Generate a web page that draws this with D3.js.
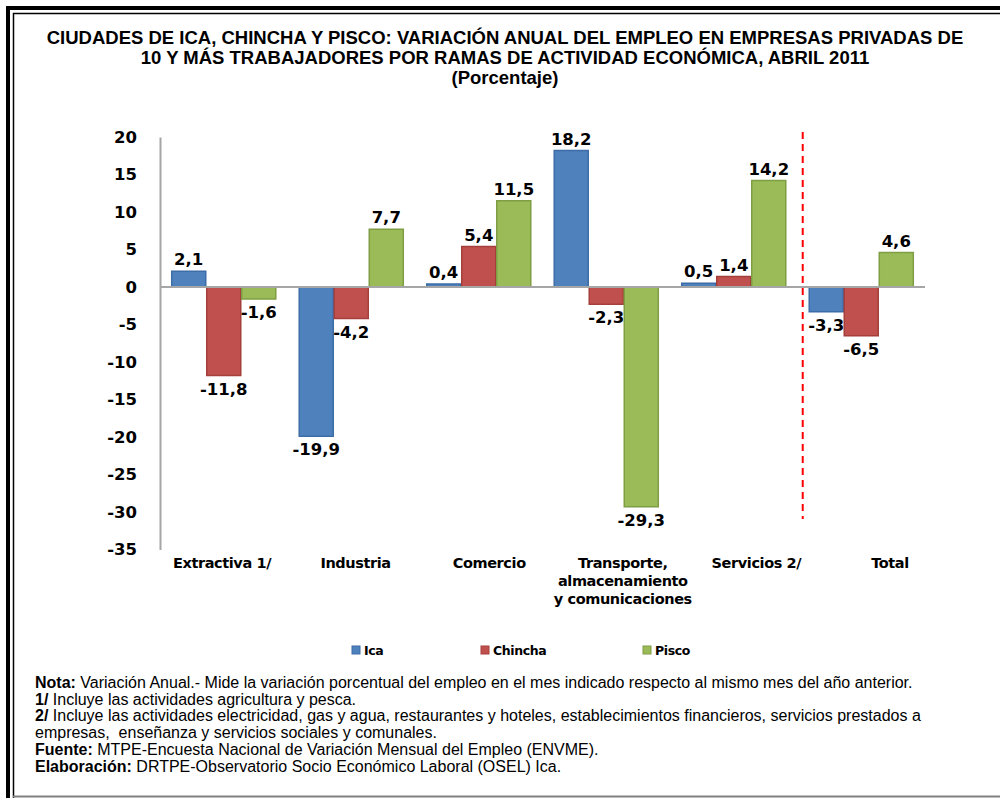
<!DOCTYPE html>
<html>
<head>
<meta charset="utf-8">
<script src="https://cdn.jsdelivr.net/npm/d3@7"></script>
<style>
  body { margin: 0; background: #fff; }
  svg { display: block; }
</style>
</head>
<body>
<svg id="canvas" width="1000" height="798"></svg>
<script>
let categories = ['Extractiva 1/', 'Industria', 'Comercio', 'Transporte, almacenamiento y comunicaciones', 'Servicios 2/', 'Total']
let categoryLines = [['Extractiva 1/'], ['Industria'], ['Comercio'], ['Transporte,', 'almacenamiento', 'y comunicaciones'], ['Servicios 2/'], ['Total']]
let series = ['Ica', 'Chincha', 'Pisco']
let ica = [2.1, -19.9, 0.4, 18.2, 0.5, -3.3]
let chincha = [-11.8, -4.2, 5.4, -2.3, 1.4, -6.5]
let pisco = [-1.6, 7.7, 11.5, -29.3, 14.2, 4.6]
let yTicks = [20, 15, 10, 5, 0, -5, -10, -15, -20, -25, -30, -35]

let titleLines = [
    'CIUDADES DE ICA, CHINCHA Y PISCO: VARIACIÓN ANUAL DEL EMPLEO EN EMPRESAS PRIVADAS DE',
    '10 Y MÁS TRABAJADORES POR RAMAS DE ACTIVIDAD ECONÓMICA, ABRIL 2011',
    '(Porcentaje)'
]
let notes = [
    ['Nota:', ' Variación Anual.- Mide la variación porcentual del empleo en el mes indicado respecto al mismo mes del año anterior.'],
    ['1/', ' Incluye las actividades agricultura y pesca.'],
    ['2/', ' Incluye las actividades electricidad, gas y agua, restaurantes y hoteles, establecimientos financieros, servicios prestados a'],
    ['', 'empresas,  enseñanza y servicios sociales y comunales.'],
    ['Fuente:', ' MTPE-Encuesta Nacional de Variación Mensual del Empleo (ENVME).'],
    ['Elaboración:', ' DRTPE-Observatorio Socio Económico Laboral (OSEL) Ica.']
]

let fills = { Ica: '#4F81BD', Chincha: '#C0504D', Pisco: '#9BBB59' }
let strokes = { Ica: '#3d6da6', Chincha: '#a43f3c', Pisco: '#7f9e43' }

let svg = d3.select('#canvas')

// marco doble
svg.append('path')
   .attr('d', 'M8,798 V8 H1000')
   .attr('fill', 'none').attr('stroke', '#000').attr('stroke-width', 4)
svg.append('path')
   .attr('d', 'M13.5,798 V13.5 H1000')
   .attr('fill', 'none').attr('stroke', '#000').attr('stroke-width', 1.5)
svg.append('line')
   .attr('x1', 13).attr('x2', 1000).attr('y1', 796.5).attr('y2', 796.5)
   .attr('stroke', '#808080').attr('stroke-width', 2)

// titulo
svg.append('g').selectAll('text')
   .data(titleLines)
   .enter()
   .append('text')
   .attr('x', 505)
   .attr('y', (d, i) => 44 + i * 20)
   .attr('text-anchor', 'middle')
   .style('font-family', 'Liberation Sans, Arial, sans-serif')
   .style('font-weight', 'bold')
   .style('font-size', '18.5px')
   .text(d => d)

let data = categories.map((c, i) => ({ category: c, values: [ica[i], chincha[i], pisco[i]] }))

let x = d3.scaleBand()
          .domain(categories)
          .range([160, 925])
          .paddingInner(0.176)
          .paddingOuter(0.088)

let x1 = d3.scaleBand()
           .domain(series)
           .range([0, x.bandwidth()])

// las etiquetas del eje van algo mas abiertas que las barras
let xLabel = d3.scalePoint()
               .domain(categories)
               .range([222, 890])

let y = d3.scaleLinear()
          .domain([-35, 20])
          .range([549.5, 137])

let fmt = v => d3.format('.1f')(v).replace('.', ',').replace('−', '-')

// eje y
let yAxis = svg.append('g')
               .attr('transform', 'translate(160,0)')
               .call(d3.axisLeft(y).tickValues(yTicks).tickSize(0).tickSizeOuter(0).tickPadding(23).tickFormat(d => String(d)))
yAxis.select('.domain').attr('stroke', '#a6a6a6').attr('stroke-width', 2)
yAxis.selectAll('text')
     .style('font-family', 'DejaVu Sans, Verdana, sans-serif')
     .style('font-weight', 'bold')
     .style('font-size', '16.5px')
     .attr('fill', '#000')

// barras
let groups = svg.selectAll('.group')
                .data(data)
                .enter()
                .append('g')
                .attr('class', 'group')
                .attr('transform', d => 'translate(' + x(d.category) + ',0)')

let bars = groups.selectAll('g')
                 .data(d => d.values.map((v, i) => ({ name: series[i], value: v })))
                 .enter()
                 .append('g')

bars.append('rect')
    .attr('x', d => x1(d.name) + 0.5)
    .attr('width', x1.bandwidth() - 1)
    .attr('y', d => y(Math.max(0, d.value)))
    .attr('height', d => Math.abs(y(d.value) - y(0)))
    .attr('fill', d => fills[d.name])
    .attr('stroke', d => strokes[d.name])
    .attr('stroke-width', 1.5)

bars.append('text')
    .attr('x', d => x1(d.name) + x1.bandwidth() / 2)
    .attr('y', d => d.value >= 0 ? y(d.value) - 6 : y(d.value) + 19)
    .attr('text-anchor', 'middle')
    .style('font-family', 'DejaVu Sans, Verdana, sans-serif')
    .style('font-weight', 'bold')
    .style('font-size', '16.5px')
    .text(d => fmt(d.value))

// linea cero
svg.append('line')
   .attr('x1', 160).attr('x2', 925)
   .attr('y1', y(0)).attr('y2', y(0))
   .attr('stroke', '#a6a6a6').attr('stroke-width', 2)

// separador de total
let sepX = x('Total') - 6
svg.append('line')
   .attr('x1', sepX).attr('x2', sepX)
   .attr('y1', 132).attr('y2', 519)
   .attr('stroke', '#ff0000').attr('stroke-width', 2)
   .attr('stroke-dasharray', '7,5')

// etiquetas de categorias
let catLabels = svg.selectAll('.cat')
                   .data(categories)
                   .enter()
                   .append('text')
                   .attr('class', 'cat')
                   .attr('text-anchor', 'middle')
                   .attr('y', 568)
                   .style('font-family', 'DejaVu Sans, Verdana, sans-serif')
                   .style('font-weight', 'bold')
                   .style('font-size', '14.5px')
                   .style('letter-spacing', '-0.4px')

catLabels.selectAll('tspan')
         .data((d, i) => categoryLines[i].map(t => ({ t: t, c: d })))
         .enter()
         .append('tspan')
         .attr('x', d => xLabel(d.c))
         .attr('dy', (d, i) => i === 0 ? 0 : 18)
         .text(d => d.t)

// leyenda
let legendX = [352, 481, 643]
let legend = svg.selectAll('.legend')
                .data(series)
                .enter()
                .append('g')
                .attr('class', 'legend')
                .attr('transform', (d, i) => 'translate(' + legendX[i] + ',646)')
legend.append('rect')
      .attr('width', 8).attr('height', 8)
      .attr('fill', d => fills[d])
      .attr('stroke', d => strokes[d])
legend.append('text')
      .attr('x', 12).attr('y', 8.5)
      .style('font-family', 'DejaVu Sans, Verdana, sans-serif')
      .style('font-weight', 'bold')
      .style('font-size', '12.5px')
      .style('letter-spacing', '-0.4px')
      .text(d => d)

// notas
let noteText = svg.selectAll('.note')
                  .data(notes)
                  .enter()
                  .append('text')
                  .attr('class', 'note')
                  .attr('x', 35)
                  .attr('y', (d, i) => 688 + i * 16.7)
                  .style('font-family', 'Liberation Sans, Arial, sans-serif')
                  .style('font-size', '16px')
                  .style('white-space', 'pre')
noteText.append('tspan').style('font-weight', 'bold').text(d => d[0])
noteText.append('tspan').text(d => d[1])
</script>
</body>
</html>
